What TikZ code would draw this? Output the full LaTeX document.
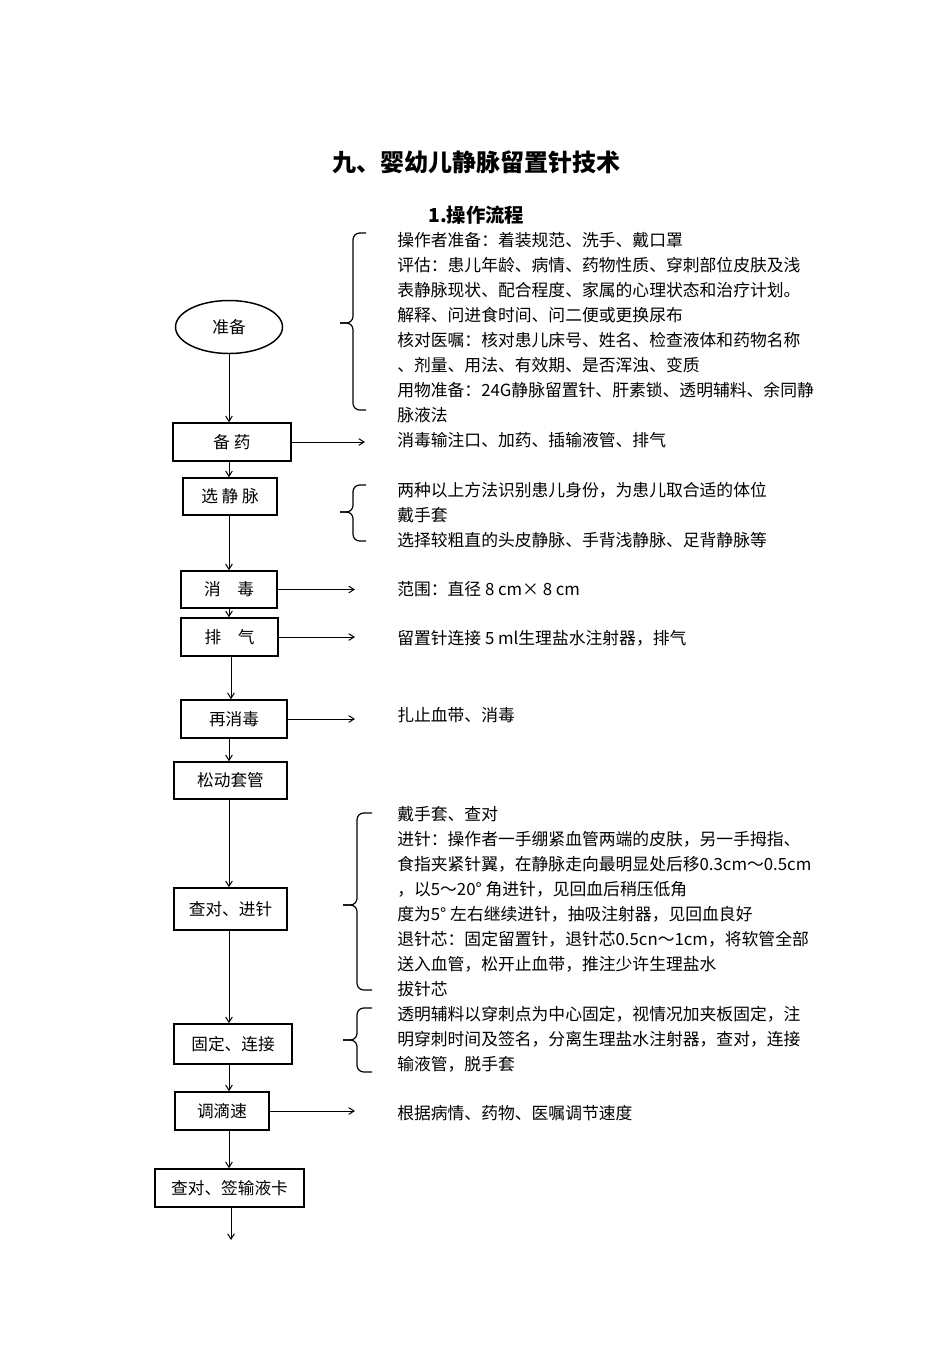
\documentclass[tikz,border=0pt]{standalone}
\usepackage{fontspec}
\setmainfont{Noto Sans CJK SC}
\usetikzlibrary{arrows.meta,shapes.geometric}
\newcommand{\mybrace}[6]{% xv, xh, xt, ytop, ytip, ybot
  \draw[bracestyle] (#2,#4) -- (#1,#4) -- (#1,#5) -- (#3,#5);
  \draw[bracestyle] (#3,#5) -- (#1,#5) -- (#1,#6) -- (#2,#6);
}
\begin{document}
\begin{tikzpicture}[x=0.75pt,y=-0.75pt,
  box/.style={draw, line width=1.1pt, inner sep=0pt, font=\fontsize{12.5pt}{15pt}\selectfont},
  arr/.style={-{Straight Barb[length=4pt,width=5pt]}, line width=0.75pt},
  txt/.style={anchor=base west, inner sep=0pt, align=left, font=\fontsize{12.6pt}{18.75pt}\selectfont},
  bracestyle/.style={line width=0.9pt, rounded corners=5pt}]
\useasboundingbox (0,0) rectangle (952,1347);
\coordinate (axis) at (229,0);

\node[anchor=base, inner sep=0pt, font=\fontsize{18pt}{20pt}\selectfont\bfseries] (title) at (476,171) {九、婴幼儿静脉留置针技术};
\node[anchor=base west, inner sep=0pt, font=\fontsize{14.5pt}{16pt}\selectfont\bfseries] (sub) at (428,222.5) {1.操作流程};

% flow nodes
\node[box, ellipse, minimum width=80.25pt, minimum height=39.75pt] (ell) at (229,327) {准备};
\node[box, minimum width=88.5pt, minimum height=28.5pt] (bei) at (232,442) {备 药};
\node[box, minimum width=70.5pt, minimum height=27.75pt] (xuan) at (230,496.5) {选 静 脉};
\node[box, minimum width=72pt, minimum height=27.75pt] (xiao) at (229,589.5) {消\quad 毒};
\node[box, minimum width=72.75pt, minimum height=28.5pt] (pai) at (229.5,637) {排\quad 气};
\node[box, minimum width=79.5pt, minimum height=28.5pt] (zai) at (234,719) {再消毒};
\node[box, minimum width=84.75pt, minimum height=27.75pt] (song) at (230.5,780.5) {松动套管};
\node[box, minimum width=84.75pt, minimum height=31.5pt] (cha) at (230.5,909) {查对、进针};
\node[box, minimum width=88.5pt, minimum height=30pt] (gu) at (233,1044) {固定、连接};
\node[box, minimum width=70.5pt, minimum height=28.5pt] (tiao) at (222,1111) {调滴速};
\node[box, minimum width=111.75pt, minimum height=28.5pt] (qian) at (229.5,1188) {查对、签输液卡};
\coordinate (endp) at (231,1240);

% vertical connectors
\draw[arr] (ell.south) -- (ell.south |- bei.north);
\draw[arr] (bei.south -| axis) -- (xuan.north -| axis);
\draw[arr] (xuan.south -| axis) -- (xiao.north -| axis);
\draw[arr] (xiao.south -| axis) -- (pai.north -| axis);
\draw[arr] (pai.south -| endp) -- (zai.north -| endp);
\draw[arr] (zai.south -| axis) -- (song.north -| axis);
\draw[arr] (song.south -| axis) -- (cha.north -| axis);
\draw[arr] (cha.south -| axis) -- (gu.north -| axis);
\draw[arr] (gu.south -| axis) -- (tiao.north -| axis);
\draw[arr] (tiao.south -| axis) -- (qian.north -| axis);
\draw[arr] (qian.south -| endp) -- (endp);

% horizontal connectors
\coordinate (h1) at (365,441);
\coordinate (h2) at (355,589);
\draw[arr] (bei.east) -- (bei.east -| h1);
\draw[arr] (xiao.east) -- (xiao.east -| h2);
\draw[arr] (pai.east) -- (pai.east -| h2);
\draw[arr] (zai.east) -- (zai.east -| h2);
\draw[arr] (tiao.east) -- (tiao.east -| h2);

% braces
\mybrace{353}{366}{340}{233}{323}{410}
\mybrace{353}{366}{340}{485}{512}{541}
\mybrace{357}{372}{343}{813}{905}{990}
\mybrace{357}{372}{343}{1008}{1040}{1072}

% texts (base anchor = baseline of the last line)
\node[txt] (t1) at (397,421.5) {操作者准备：着装规范、洗手、戴口罩\\
评估：患儿年龄、病情、药物性质、穿刺部位皮肤及浅\\
表静脉现状、配合程度、家属的心理状态和治疗计划。\\
解释、问进食时间、问二便或更换尿布\\
核对医嘱：核对患儿床号、姓名、检查液体和药物名称\\
、剂量、用法、有效期、是否浑浊、变质\\
用物准备：24G静脉留置针、肝素锁、透明辅料、余同静\\
脉液法};
\node[txt] (t2) at (397,446.6) {消毒输注口、加药、插输液管、排气};
\node[txt] (t3) at (397,546.6) {两种以上方法识别患儿身份，为患儿取合适的体位\\
戴手套\\
选择较粗直的头皮静脉、手背浅静脉、足背静脉等};
\node[txt] (t4) at (397,595.6) {范围：直径 8 cm× 8 cm};
\node[txt] (t5) at (397,644.6) {留置针连接 5 ml生理盐水注射器，排气};
\node[txt] (t6) at (397,721.6) {扎止血带、消毒};
\node[txt] (t7) at (397,995.6) {戴手套、查对\\
进针：操作者一手绷紧血管两端的皮肤，另一手拇指、\\
食指夹紧针翼，在静脉走向最明显处后移0.3cm～0.5cm\\
，以5～20° 角进针，见回血后稍压低角\\
度为5° 左右继续进针，抽吸注射器，见回血良好\\
退针芯：固定留置针，退针芯0.5cn～1cm，将软管全部\\
送入血管，松开止血带，推注少许生理盐水\\
拔针芯};
\node[txt] (t8) at (397,1070.6) {透明辅料以穿刺点为中心固定，视情况加夹板固定，注\\
明穿刺时间及签名，分离生理盐水注射器，查对，连接\\
输液管，脱手套};
\node[txt] (t9) at (397,1119.6) {根据病情、药物、医嘱调节速度};
\end{tikzpicture}
\end{document}
